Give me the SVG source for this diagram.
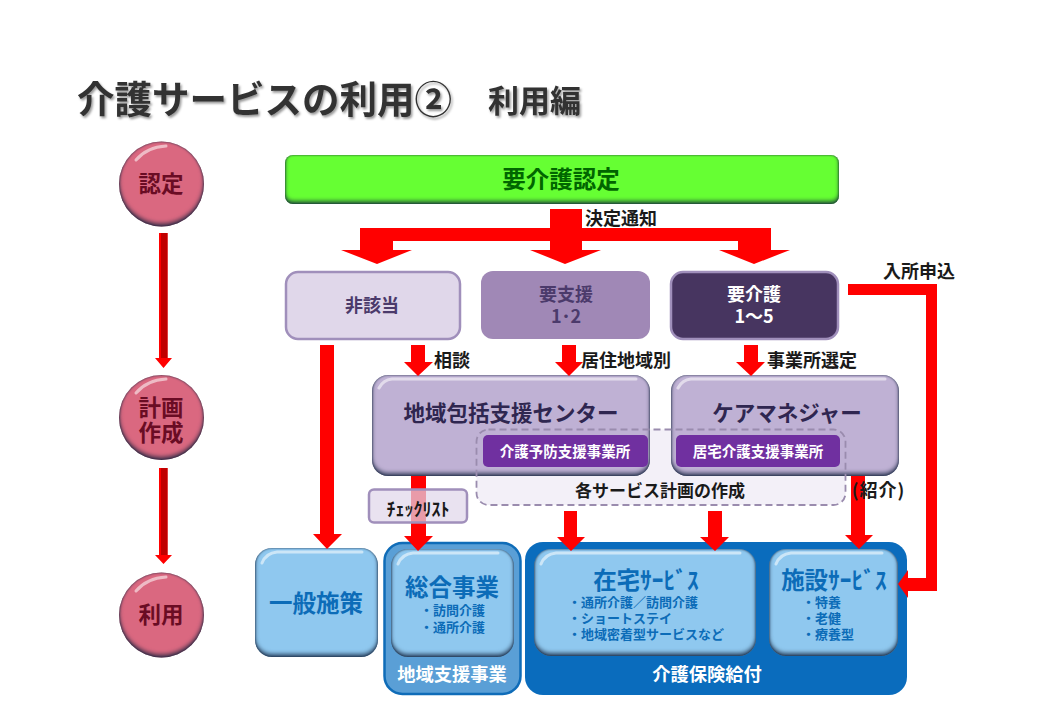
<svg xmlns="http://www.w3.org/2000/svg" width="1041" height="721" viewBox="0 0 1041 721">
<style>
text{font-family:"Noto Sans CJK JP","Noto Sans CJK SC",sans-serif;font-weight:700;text-anchor:middle}
.l{text-anchor:start}
.title{fill:#333;font-size:37.5px;filter:url(#ts)}
.edge{fill:#1a1a1a;font-size:18px}
.pk{fill:#da6880;filter:url(#bevel)}
.pkt{fill:#6a0c24;font-size:22.5px}
.pu{fill:#bfb1d4;filter:url(#bevel)}
.put{fill:#2f2650;font-size:21.5px}
.bl{fill:#8fc8ef;filter:url(#bevel)}
.blt{fill:#0c6cb8;font-size:23.5px}
.bls{fill:#0c6cb8;font-size:13px}
.wh{fill:#fff;font-size:18.3px}
.hl{fill:none;stroke:#fff;stroke-width:3;stroke-linecap:round;opacity:.55;filter:url(#soft)}
.ar{fill:#f00}
.tl{fill:#f00}
.tlc{fill:#c00000}
.pb{fill:#7030a0}
</style>
<defs>
<filter id="bevel" x="-5%" y="-5%" width="110%" height="110%" color-interpolation-filters="sRGB">
<feGaussianBlur in="SourceAlpha" stdDeviation="2.2" result="b"/>
<feOffset in="b" dy="-3" result="o"/>
<feComposite in="SourceAlpha" in2="o" operator="out" result="c"/>
<feFlood flood-color="#10203a" flood-opacity=".75"/>
<feComposite in2="c" operator="in" result="s"/>
<feGaussianBlur in="SourceAlpha" stdDeviation="1.2" result="b2"/>
<feComposite in="SourceAlpha" in2="b2" operator="out" result="c2"/>
<feFlood flood-color="#10203a" flood-opacity=".8"/>
<feComposite in2="c2" operator="in" result="s2"/>
<feMerge><feMergeNode in="SourceGraphic"/><feMergeNode in="s2"/><feMergeNode in="s"/></feMerge>
</filter>
<filter id="soft" x="-5%" y="-50%" width="110%" height="200%"><feGaussianBlur stdDeviation=".7"/></filter>
<filter id="ts" x="-5%" y="-20%" width="110%" height="150%"><feDropShadow dx="1.5" dy="2" stdDeviation="1.2" flood-color="#000" flood-opacity=".4"/></filter>
</defs>
<rect width="1041" height="721" fill="#fff"/>
<text class="title l" x="77" y="113">介護サービスの利用②</text>
<text class="title l" x="488" y="112" style="font-size:31px">利用編</text>

<g id="step-nintei"><circle class="pk" cx="161.500" cy="184" r="42.500"/><path class="hl" d="M136 160Q147 147 166 146"/><text class="pkt" x="161" y="192">認定</text></g>
<g id="step-keikaku"><circle class="pk" cx="161.500" cy="417.500" r="42.500"/><path class="hl" d="M136 393Q147 380 166 379"/><text class="pkt" x="161" y="416">計画</text><text class="pkt" x="161" y="441">作成</text></g>
<g id="step-riyou"><circle class="pk" cx="161.500" cy="615" r="42.500"/><path class="hl" d="M136 591Q147 578 166 577"/><text class="pkt" x="161" y="623">利用</text></g>

<g id="youkaigo-nintei"><rect x="285" y="155" width="554" height="49" rx="8" fill="#66ff33" filter="url(#bevel)"/><path class="hl" d="M293 159H830"/><text x="561" y="188" fill="#006600" font-size="23.500">要介護認定</text></g>
<g id="higaitou"><rect x="286" y="272" width="174" height="67" rx="12" fill="#e0d7ea" stroke="#a08fbb" stroke-width="2.500"/><text x="372" y="312" fill="#4b3a6b" font-size="18">非該当</text></g>
<g id="youshien"><rect x="481" y="271" width="169" height="68" rx="12" fill="#a088b6"/><text x="566" y="301" fill="#4b3a6b" font-size="18">要支援</text><text x="566" y="323" fill="#4b3a6b" font-size="18">1･2</text></g>
<g id="youkaigo"><rect x="671" y="272" width="167" height="67" rx="12" fill="#473560" stroke="#a08fbb" stroke-width="2.500"/><text x="754" y="301" fill="#fff" font-size="18">要介護</text><text x="754" y="323" fill="#fff" font-size="18">1～5</text></g>

<g id="keikaku-sakusei-bg"><rect x="476.500" y="429.500" width="369" height="75.500" rx="12" fill="#f3f0f8"/></g>
<g id="houkatsu"><rect class="pu" x="372" y="375" width="278" height="101" rx="16"/><path class="hl" d="M379 388Q383 380 392 379H636"/><text class="put" x="511" y="421">地域包括支援センター</text></g>
<g id="caremanager"><rect class="pu" x="671" y="375" width="228" height="101" rx="16"/><path class="hl" d="M678 388Q682 380 691 379H885"/><text class="put" x="787" y="421">ケアマネジャー</text></g>

<g id="ippan"><rect class="bl" x="255" y="548" width="123" height="109" rx="17"/><path class="hl" d="M262 563Q266 553 277 552H362"/><text class="blt" x="316" y="612">一般施策</text></g>
<g id="chiiki-shien"><rect x="384.500" y="543" width="136" height="151" rx="18" fill="#5a9fd6" stroke="#0f6cb8" stroke-width="2.500"/><text class="wh" x="452" y="681">地域支援事業</text></g>
<g id="sougou"><rect class="bl" x="391" y="549" width="123" height="108" rx="17"/><path class="hl" d="M398 564Q402 554 413 553H498"/><text class="blt" x="452" y="596">総合事業</text><text class="bls l" x="420" y="615">・訪問介護</text><text class="bls l" x="420" y="632">・通所介護</text></g>
<g id="hoken"><rect x="525" y="542" width="382" height="153" rx="18" fill="#0a6cbd"/><text class="wh" x="707" y="681">介護保険給付</text></g>
<g id="zaitaku"><rect class="bl" x="534" y="549" width="222" height="107" rx="17"/><path class="hl" d="M541 564Q545 554 556 553H740"/><text class="blt" x="646" y="589">在宅ｻｰﾋﾞｽ</text><text class="bls l" x="568" y="607">・通所介護／訪問介護</text><text class="bls l" x="568" y="623">・ショートステイ</text><text class="bls l" x="568" y="639">・地域密着型サービスなど</text></g>
<g id="shisetsu"><rect class="bl" x="769" y="549" width="129" height="107" rx="17"/><path class="hl" d="M776 564Q780 554 791 553H882"/><text class="blt" x="834" y="589">施設ｻｰﾋﾞｽ</text><text class="bls l" x="802" y="607">・特養</text><text class="bls l" x="802" y="623">・老健</text><text class="bls l" x="802" y="639">・療養型</text></g>

<g id="connectors">
<path class="tl" d="M159 233H167.500V358H172L163.500 368L155 358H159Z"/>
<rect class="tlc" x="161" y="233" width="6.500" height="125"/>
<path class="tl" d="M159 468H167.500V555H172L163.500 564L155 555H159Z"/>
<rect class="tlc" x="161" y="468" width="6.500" height="87"/>
<path class="ar" d="M550 209H582V228H771V250H790L754 264L719 250H738V241H582V250H601L565 264L530 250H550V241H393V250H412L377 264L341 250H360V228H550Z"/>
<path class="ar" d="M320 345H334V534H342L327 549L313 534H320Z"/>
<path class="ar" d="M411 345H425V362H433L418 376L404 362H411Z"/>
<path class="ar" d="M562 345H576V362H583L569 376L555 362H562Z"/>
<path class="ar" d="M744 345H758V362H765L751 376L736 362H744Z"/>
<path class="ar" d="M411 476H426V536H433L418 551L404 536H411Z"/>
<path class="ar" d="M564 511H577V537H585L571 551L557 537H564Z"/>
<path class="ar" d="M708 511H722V537H729L715 551L700 537H708Z"/>
<path class="ar" d="M851 476H865V535H873L859 549L845 535H851Z"/>
<path class="ar" d="M848 284H937V591H908V598L898 584L908 570V578H926V295H848Z"/>
<text class="edge" x="621" y="225">決定通知</text>
<text class="edge" x="919" y="278">入所申込</text>
<text class="edge" x="452" y="367">相談</text>
<text class="edge" x="626" y="367">居住地域別</text>
<text class="edge" x="812" y="367">事業所選定</text>
</g>

<g id="checklist"><rect x="369" y="489.500" width="98" height="33" rx="5" fill="#e0d7ea" fill-opacity=".72" stroke="#a08fbb" stroke-width="2.500"/><text x="418" y="516" fill="#1a1a1a" font-size="18">ﾁｪｯｸﾘｽﾄ</text></g>
<g id="keikaku-sakusei"><rect x="476.500" y="429.500" width="369" height="75.500" rx="12" fill="none" stroke="#9a8cae" stroke-width="1.800" stroke-dasharray="7 4"/><text x="660" y="497" fill="#1a1a1a" font-size="17">各サービス計画の作成</text></g>
<g id="yobou"><rect class="pb" x="483" y="435" width="165" height="32" rx="5"/><text x="565" y="456.500" fill="#fff" font-size="14.500">介護予防支援事業所</text></g>
<g id="kyotaku"><rect class="pb" x="676" y="435" width="164" height="32" rx="5"/><text x="758" y="456.500" fill="#fff" font-size="14.500">居宅介護支援事業所</text></g>
<text class="edge" x="878.500" y="497" letter-spacing="1">(紹介)</text>
</svg>
